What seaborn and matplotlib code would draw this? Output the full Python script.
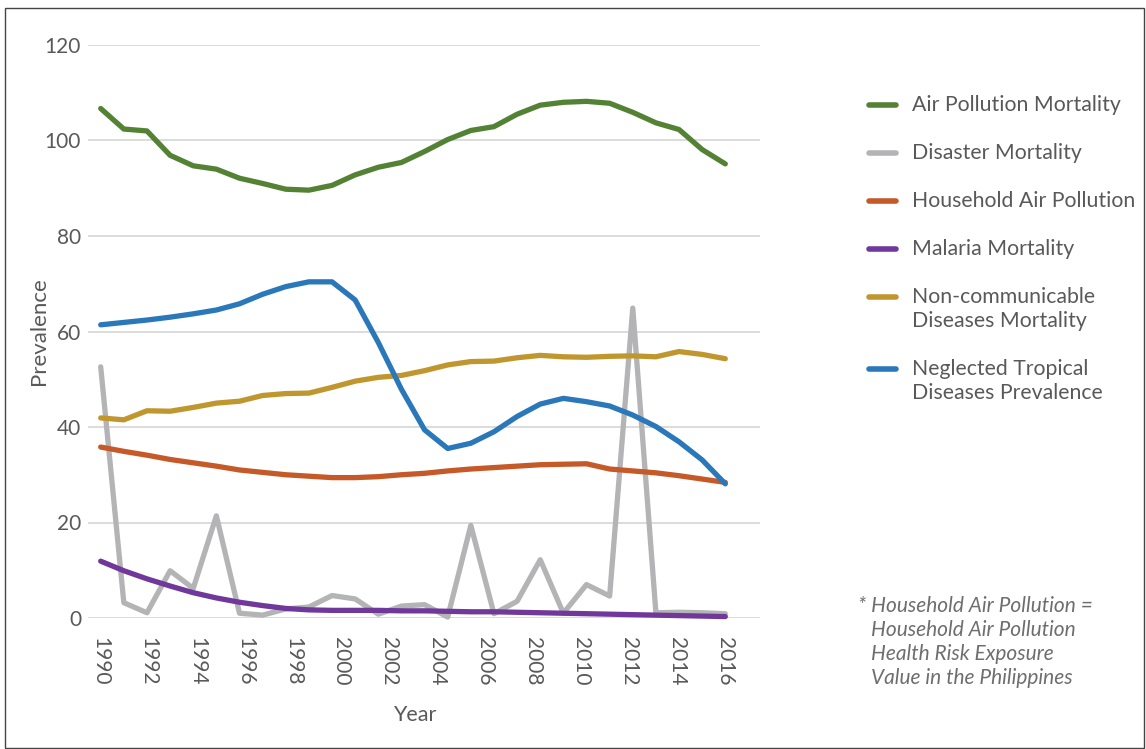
import numpy as np
import pandas as pd
import matplotlib
matplotlib.use("Agg")
import matplotlib.pyplot as plt
from matplotlib.lines import Line2D
from matplotlib.patches import Rectangle
import seaborn as sns

# ---- data (28 evenly spaced points between 1990 and 2016) ----
series_names = ["Air Pollution Mortality", "Disaster Mortality", "Household Air Pollution",
                "Malaria Mortality", "Non-communicable\nDiseases Mortality",
                "Neglected Tropical\nDiseases Prevalence"]
air_pollution = [106.7, 102.4, 102.0, 96.9, 94.7, 94.0, 92.1, 91.0, 89.8, 89.6, 90.6, 92.8, 94.4, 95.4,
                 97.7, 100.2, 102.1, 102.9, 105.5, 107.4, 108.0, 108.2, 107.8, 105.9, 103.7, 102.3, 98.1, 95.1]
disaster = [52.6, 3.2, 1.1, 9.9, 6.2, 21.4, 1.0, 0.6, 1.9, 2.3, 4.7, 4.0, 0.8, 2.5,
            2.8, 0.2, 19.4, 0.9, 3.5, 12.2, 1.0, 7.0, 4.6, 64.9, 1.1, 1.2, 1.1, 0.9]
household = [35.8, 34.9, 34.1, 33.2, 32.5, 31.8, 31.0, 30.5, 30.0, 29.7, 29.4, 29.4, 29.6, 30.0,
             30.3, 30.8, 31.2, 31.5, 31.8, 32.1, 32.2, 32.3, 31.2, 30.8, 30.4, 29.8, 29.1, 28.4]
malaria = [11.9, 9.9, 8.2, 6.7, 5.3, 4.2, 3.3, 2.6, 2.0, 1.7, 1.6, 1.6, 1.6, 1.5,
           1.5, 1.4, 1.3, 1.3, 1.2, 1.1, 1.0, 0.9, 0.8, 0.7, 0.6, 0.5, 0.4, 0.3]
noncommunicable = [41.9, 41.5, 43.4, 43.3, 44.1, 45.0, 45.4, 46.6, 47.0, 47.1, 48.3, 49.6, 50.4, 50.8,
                   51.8, 53.0, 53.7, 53.8, 54.5, 55.0, 54.7, 54.6, 54.8, 54.9, 54.7, 55.8, 55.2, 54.3]
tropical = [61.4, 61.9, 62.4, 63.0, 63.7, 64.5, 65.8, 67.8, 69.4, 70.4, 70.4, 66.6, 57.7, 47.9,
            39.4, 35.5, 36.6, 39.0, 42.2, 44.8, 46.0, 45.3, 44.4, 42.5, 40.1, 36.9, 33.1, 28.1]
colors = ["#548235", "#b4b4b7", "#c55a28", "#70389a", "#c0972f", "#2a78b9"]
year_ticks = list(range(1990, 2017, 2))
y_ticks = [0, 20, 40, 60, 80, 100, 120]
footnote = ["* Household Air Pollution =", "Household Air Pollution",
            "Health Risk Exposure", "Value in the Philippines"]

values = [air_pollution, disaster, household, malaria, noncommunicable, tropical]
x = np.linspace(1990, 2016, len(air_pollution))
df = pd.concat([pd.DataFrame({"Year": x, "Prevalence": v, "series": n})
                for n, v in zip(series_names, values)], ignore_index=True)

sns.set_style("white")
plt.rcParams["font.family"] = ["Lato", "DejaVu Sans"]
W, H = 1146, 749
fig = plt.figure(figsize=(W / 100, H / 100), dpi=100)
ax = fig.add_axes([88 / W, 1 - 618 / H, (760 - 88) / W, (618 - 45) / H])

sns.lineplot(data=df, x="Year", y="Prevalence", hue="series", hue_order=series_names,
             palette=colors, linewidth=3.8, legend=False, ax=ax, sort=False)
for ln in ax.get_lines():
    ln.set_solid_capstyle("round"); ln.set_solid_joinstyle("round"); ln.set_clip_on(False)

px_per_year = (725.3 - 100.7) / 26
ax.set_xlim(1990 - (100.7 - 88) / px_per_year, 2016 + (760 - 725.3) / px_per_year)
ax.set_ylim(0, 120)
ax.set_yticks(y_ticks); ax.set_xticks(year_ticks)
ax.set_xticklabels([str(t) for t in year_ticks], rotation=270, fontsize=15, color="#595959")
ax.set_yticklabels([str(t) for t in y_ticks], fontsize=15, color="#595959")
ax.tick_params(axis="x", length=0, pad=14)
ax.tick_params(axis="y", length=0, pad=5)
ax.grid(axis="y", color="#d9d9d9", linewidth=1.3)
ax.grid(axis="x", visible=False)
ax.set_axisbelow(True)
sns.despine(ax=ax, left=True, bottom=True)
ax.set_xlabel("Year", fontsize=15.5, color="#595959")
ax.set_ylabel("Prevalence", fontsize=16, color="#595959")
ax.xaxis.set_label_coords((415 - 88) / 672, -(705 - 618) / 573)
ax.yaxis.set_label_coords((49 - 88) / 672, 0.5)

# legend on the right, handle aligned with the first line of each label
legend_y = [105, 153, 201, 249, 297, 369]
for name, c, yy in zip(series_names, colors, legend_y):
    fy = 1 - yy / H
    fig.add_artist(Line2D([869 / W, 896 / W], [fy, fy], color=c, lw=4,
                          solid_capstyle="round", transform=fig.transFigure))
    for k, part in enumerate(name.split("\n")):
        fig.text(912 / W, 1 - (yy + 24 * k) / H, part, fontsize=15.3, color="#595959",
                 va="center", ha="left")

# footnote
for k, line in enumerate(footnote):
    fig.text((858 if k == 0 else 871) / W, 1 - (606 + 24 * k) / H, line, fontsize=15,
             style="italic", color="#6e6e6e", va="center", ha="left")

fig.patches.append(Rectangle((5 / W, 1 / H), (W - 7) / W, (H - 9) / H, transform=fig.transFigure,
                             fill=False, edgecolor="#444444", linewidth=1))
fig.savefig("out.png", dpi=100)
